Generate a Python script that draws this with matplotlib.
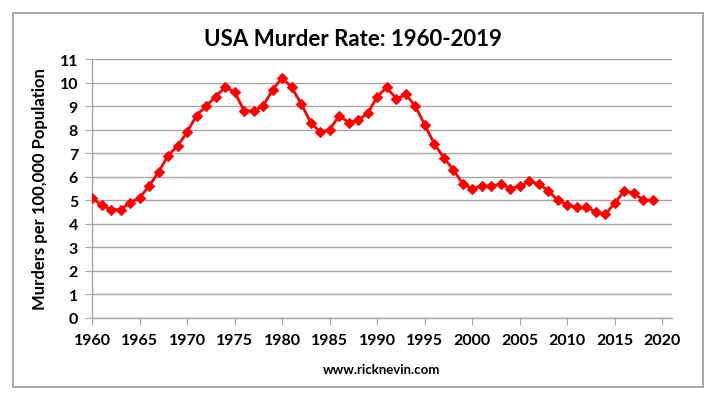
import matplotlib.pyplot as plt
from matplotlib.patches import Rectangle

plt.rcParams['font.family'] = ['Lato', 'DejaVu Sans']

# US murder rate per 100,000 population
years = list(range(1960, 2020))
rates = [5.1, 4.8, 4.6, 4.6, 4.9, 5.1, 5.6, 6.2, 6.9, 7.3,
         7.9, 8.6, 9.0, 9.4, 9.8, 9.6, 8.8, 8.8, 9.0, 9.7,
         10.2, 9.8, 9.1, 8.3, 7.9, 8.0, 8.6, 8.3, 8.4, 8.7,
         9.4, 9.8, 9.3, 9.5, 9.0, 8.2, 7.4, 6.8, 6.3, 5.7,
         5.5, 5.6, 5.6, 5.7, 5.5, 5.6, 5.8, 5.7, 5.4, 5.0,
         4.8, 4.7, 4.7, 4.5, 4.4, 4.9, 5.4, 5.3, 5.0, 5.0]
x_ticks = list(range(1960, 2021, 5))
y_ticks = list(range(0, 12))

W, H = 716, 402
fig = plt.figure(figsize=(W / 100, H / 100), dpi=100)
ax = fig.add_axes([92 / W, 1 - 319 / H, (672 - 92) / W, (319 - 60) / H])

# outer chart border
fig.patches.append(Rectangle((13 / W, 1 - 388 / H), (703 - 13) / W, (388 - 14) / H,
                             transform=fig.transFigure, fill=False,
                             edgecolor='#9a9a9a', linewidth=1.2))

ax.plot(years, rates, '-D', color='#ff0000', linewidth=2.0,
        markersize=4.8, markeredgewidth=0.8, zorder=5)

ax.set_xlim(1960, 2021)
ax.set_ylim(0, 11)
ax.set_xticks(x_ticks)
ax.set_yticks(y_ticks)
ax.grid(True, axis='y', color='#a6a6a6', linewidth=1.0)
ax.set_axisbelow(True)

for s in ['top', 'right']:
    ax.spines[s].set_visible(False)
for s in ['left', 'bottom']:
    ax.spines[s].set_color('#a6a6a6')
    ax.spines[s].set_linewidth(1.0)

ax.tick_params(axis='both', direction='out', length=5, color='#a6a6a6',
               labelsize=11.5)
ax.tick_params(axis='x', pad=6)
ax.tick_params(axis='y', pad=5)
for lbl in ax.get_xticklabels() + ax.get_yticklabels():
    lbl.set_fontweight('bold')

ax.set_ylabel('Murders per 100,000 Population', fontsize=12,
              fontweight='bold', labelpad=8)
ax.set_xlabel('www.ricknevin.com', fontsize=9.5, fontweight='bold', labelpad=11)
fig.text(353 / W, 1 - 40 / H, 'USA Murder Rate: 1960-2019', ha='center',
         va='center', fontsize=16, fontweight='bold')

plt.savefig('out.png', dpi=100, facecolor='white')
